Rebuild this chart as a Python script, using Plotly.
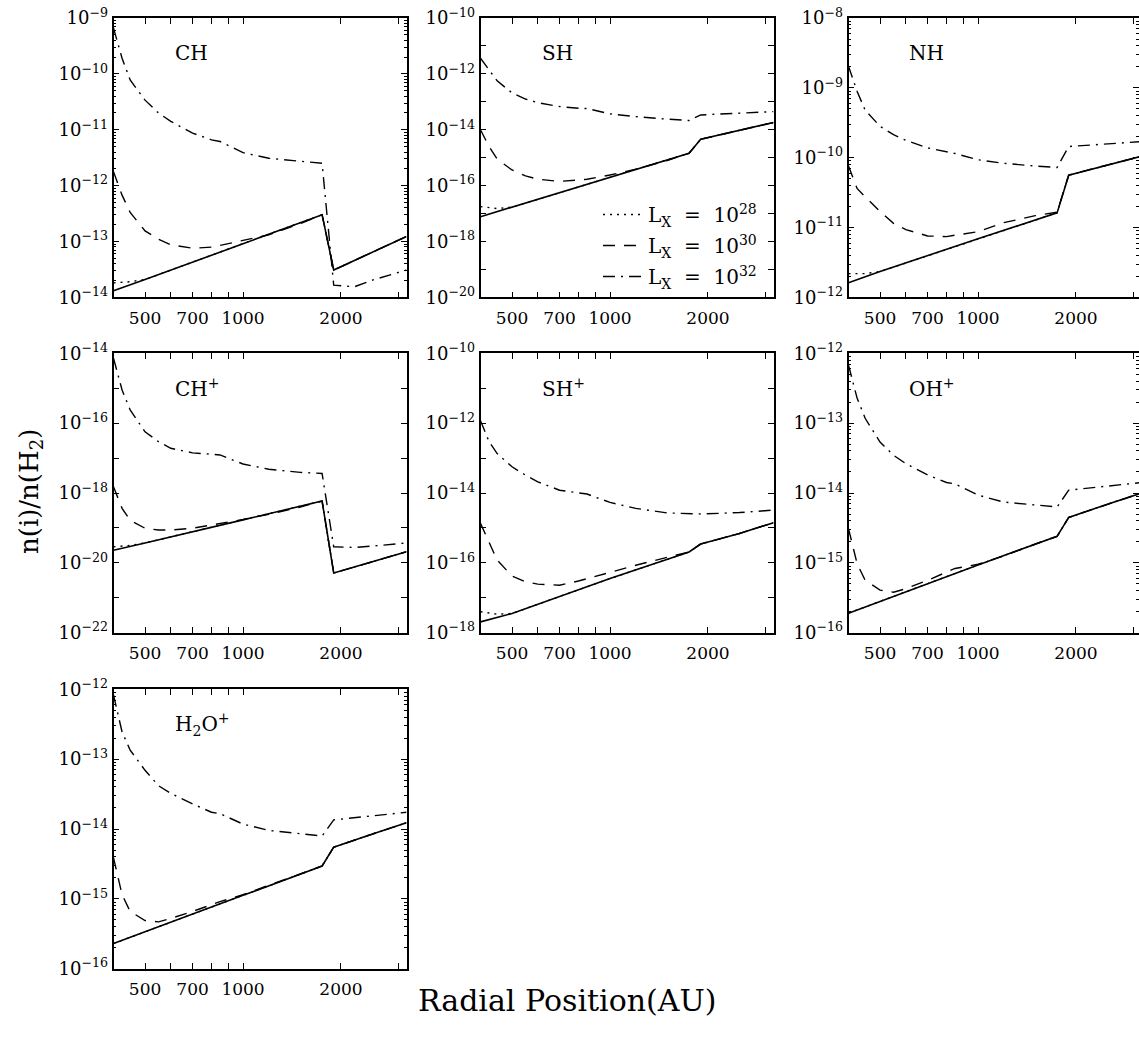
import math
import plotly.graph_objects as go

FONT = "DejaVu Serif"
W, H = 1139, 1039

# Radial position (AU) sampling points
X_CURVE = [400, 425, 450, 500, 550, 600, 700, 800, 850, 1000, 1200, 1500, 1750, 1900, 2200, 2500, 3180]
X_LINE = [400, 450, 500, 1000, 1750, 1900, 2500, 3180]

# log10 of n(i)/n(H2)
# --- CH ---
CH_LX32 = [-9.18, -9.72, -10.11, -10.47, -10.70, -10.85, -11.06, -11.18, -11.21, -11.41, -11.51, -11.57, -11.60, -13.78, -13.81, -13.69, -13.51]
CH_LX30 = [-11.75, -12.17, -12.48, -12.81, -12.96, -13.06, -13.12, -13.10, -13.07, -12.98, -12.88, -12.68, -12.52, -13.51, -13.34, -13.19, -12.91]
CH_LX28 = [-13.74, -13.72, -13.68, -13.04, -12.52, -13.51, -13.19, -12.91]
CH_BASE = [-13.88, -13.78, -13.68, -13.04, -12.52, -13.51, -13.19, -12.91]
# --- SH ---
SH_LX32 = [-11.44, -11.85, -12.25, -12.68, -12.90, -13.03, -13.17, -13.23, -13.24, -13.43, -13.53, -13.62, -13.67, -13.47, -13.44, -13.42, -13.35]
SH_LX30 = [-14.00, -14.60, -15.05, -15.44, -15.65, -15.77, -15.85, -15.79, -15.77, -15.62, -15.41, -15.10, -14.84, -14.34, -14.17, -14.02, -13.74]
SH_LX28 = [-16.75, -16.82, -16.77, -15.70, -14.84, -14.34, -14.02, -13.74]
SH_BASE = [-17.11, -16.93, -16.77, -15.70, -14.84, -14.34, -14.02, -13.74]
# --- NH ---
NH_LX32 = [-8.69, -9.05, -9.32, -9.55, -9.67, -9.75, -9.86, -9.91, -9.94, -10.03, -10.08, -10.12, -10.14, -9.84, -9.82, -9.80, -9.77]
NH_LX30 = [-10.12, -10.44, -10.56, -10.77, -10.94, -11.03, -11.12, -11.13, -11.11, -11.06, -10.93, -10.83, -10.78, -10.25, -10.17, -10.10, -9.98]
NH_LX28 = [-11.66, -11.66, -11.63, -11.16, -10.79, -10.25, -10.10, -9.98]
NH_BASE = [-11.79, -11.70, -11.63, -11.16, -10.79, -10.25, -10.10, -9.98]
# --- CH+ ---
CHP_LX32 = [-14.14, -15.05, -15.62, -16.25, -16.53, -16.72, -16.85, -16.89, -16.91, -17.17, -17.32, -17.41, -17.44, -19.54, -19.56, -19.52, -19.43]
CHP_LX30 = [-17.82, -18.44, -18.78, -19.01, -19.06, -19.06, -19.01, -18.92, -18.87, -18.76, -18.61, -18.40, -18.23, -20.29, -20.12, -19.97, -19.68]
CHP_LX28 = [-19.54, -19.50, -19.43, -18.77, -18.23, -20.29, -19.97, -19.68]
CHP_BASE = [-19.64, -19.52, -19.43, -18.77, -18.23, -20.29, -19.97, -19.68]
# --- SH+ ---
SHP_LX32 = [-11.93, -12.53, -12.87, -13.25, -13.49, -13.68, -13.92, -14.00, -14.03, -14.27, -14.44, -14.57, -14.60, -14.60, -14.58, -14.56, -14.49]
SHP_LX30 = [-14.87, -15.40, -15.92, -16.38, -16.54, -16.61, -16.64, -16.52, -16.45, -16.26, -16.07, -15.84, -15.69, -15.46, -15.29, -15.16, -14.85]
SHP_LX28 = [-17.40, -17.47, -17.45, -16.45, -15.69, -15.46, -15.16, -14.85]
SHP_BASE = [-17.69, -17.56, -17.45, -16.45, -15.69, -15.46, -15.16, -14.85]
# --- OH+ ---
OHP_LX32 = [-12.17, -12.64, -12.93, -13.27, -13.46, -13.58, -13.74, -13.85, -13.87, -14.03, -14.13, -14.17, -14.20, -13.96, -13.93, -13.91, -13.85]
OHP_LX30 = [-14.51, -15.01, -15.25, -15.39, -15.42, -15.37, -15.25, -15.13, -15.08, -15.02, -14.90, -14.73, -14.62, -14.35, -14.25, -14.16, -14.00]
OHP_LX28 = [-15.72, -15.63, -15.55, -15.03, -14.62, -14.35, -14.16, -14.00]
OHP_BASE = [-15.72, -15.63, -15.55, -15.03, -14.62, -14.35, -14.16, -14.00]
# --- H2O+ ---
H2OP_LX32 = [-12.08, -12.61, -12.87, -13.16, -13.38, -13.49, -13.64, -13.76, -13.78, -13.93, -14.02, -14.07, -14.10, -13.87, -13.84, -13.81, -13.76]
H2OP_LX30 = [-14.41, -14.94, -15.18, -15.31, -15.33, -15.28, -15.18, -15.08, -15.04, -14.94, -14.81, -14.64, -14.53, -14.26, -14.16, -14.07, -13.91]
H2OP_LX28 = [-15.64, -15.55, -15.47, -14.95, -14.53, -14.26, -14.07, -13.91]
H2OP_BASE = [-15.64, -15.55, -15.47, -14.95, -14.53, -14.26, -14.07, -13.91]

SPECIES = ["CH", "SH", "NH", "CH<sup>+</sup>", "SH<sup>+</sup>", "OH<sup>+</sup>", "H<sub>2</sub>O<sup>+</sup>"]
Y_RANGES = [(-14, -9), (-20, -10), (-12, -8), (-22, -14), (-18, -10), (-16, -12), (-16, -12)]
LABEL_STEP = [1, 2, 1, 2, 2, 1, 1]
DATA = [
    (CH_LX28, CH_LX30, CH_LX32, CH_BASE),
    (SH_LX28, SH_LX30, SH_LX32, SH_BASE),
    (NH_LX28, NH_LX30, NH_LX32, NH_BASE),
    (CHP_LX28, CHP_LX30, CHP_LX32, CHP_BASE),
    (SHP_LX28, SHP_LX30, SHP_LX32, SHP_BASE),
    (OHP_LX28, OHP_LX30, OHP_LX32, OHP_BASE),
    (H2OP_LX28, H2OP_LX30, H2OP_LX32, H2OP_BASE),
]
X_TICKS = [500, 700, 1000, 2000]
X_TICK_TEXT = ["500", "700", "1000", "2000"]
X_MINOR_TICKS = [600, 800, 900, 3000]
X_RANGE = (400, 3180)
LEGEND_NAMES = ["L<sub>X</sub>\u00a0\u00a0=\u00a0\u00a010<sup>28</sup>",
                "L<sub>X</sub>\u00a0\u00a0=\u00a0\u00a010<sup>30</sup>",
                "L<sub>X</sub>\u00a0\u00a0=\u00a0\u00a010<sup>32</sup>"]

# layout in pixels
COL_LEFT = [113.5, 480.5, 848.5]
ROW_TOP = [18.0, 353.3, 689.3]
PW, PH = 293.0, 279.4

STYLE_28 = dict(color="black", width=1.4, dash="2px,5px")
STYLE_30 = dict(color="black", width=1.4, dash="12px,9px")
STYLE_32 = dict(color="black", width=1.4, dash="12px,6px,2px,6px")
STYLE_BASE = dict(color="black", width=1.6)

Y_TICK_FONT = dict(family=FONT, size=18, color="black")
X_TICK_FONT = dict(family=FONT, size=17, color="black")


def pw(v):
    return [10 ** e for e in v]


def ylabel(k):
    return "10<sup>\u2212%d</sup>" % abs(k)


fig = go.Figure()
layout = {}
annotations = []

for i, (sp, yr, step, dat) in enumerate(zip(SPECIES, Y_RANGES, LABEL_STEP, DATA)):
    n = i + 1
    row, col = divmod(i, 3)
    suf = "" if n == 1 else str(n)
    x0 = COL_LEFT[col]
    x1 = min(x0 + PW, W)
    lx0, lx1 = math.log10(X_RANGE[0]), math.log10(X_RANGE[1])
    xhi = lx0 + (lx1 - lx0) * (x1 - x0) / PW
    y_top = ROW_TOP[row]
    y_bot = y_top + PH
    lx28, lx30, lx32, base = dat

    fig.add_trace(go.Scatter(x=X_LINE, y=pw(base), mode="lines", line=STYLE_BASE,
                             showlegend=False, xaxis="x" + suf, yaxis="y" + suf, hoverinfo="skip"))
    fig.add_trace(go.Scatter(x=X_LINE, y=pw(lx28), mode="lines", line=STYLE_28,
                             name=LEGEND_NAMES[0], legendgroup="a", showlegend=(n == 1),
                             xaxis="x" + suf, yaxis="y" + suf))
    fig.add_trace(go.Scatter(x=X_CURVE, y=pw(lx30), mode="lines", line=STYLE_30,
                             name=LEGEND_NAMES[1], legendgroup="b", showlegend=(n == 1),
                             xaxis="x" + suf, yaxis="y" + suf))
    fig.add_trace(go.Scatter(x=X_CURVE, y=pw(lx32), mode="lines", line=STYLE_32,
                             name=LEGEND_NAMES[2], legendgroup="c", showlegend=(n == 1),
                             xaxis="x" + suf, yaxis="y" + suf))

    lo, hi = yr
    if step == 1:
        yt = [10.0 ** k for k in range(lo, hi + 1)]
        ytt = [ylabel(k) for k in range(lo, hi + 1)]
        minor = dict(ticks="inside", ticklen=3, tickwidth=1, tickcolor="black", showgrid=False,
                     tickmode="array",
                     tickvals=[m * 10.0 ** k for k in range(lo, hi) for m in range(2, 10)])
    else:
        yt = [10.0 ** k for k in range(lo, hi + 1, step)]
        ytt = [ylabel(k) for k in range(lo, hi + 1, step)]
        minor = dict(ticks="inside", ticklen=6, tickwidth=1.2, tickcolor="black", showgrid=False,
                     tickmode="array",
                     tickvals=[10.0 ** k for k in range(lo + 1, hi, step)])

    layout["xaxis" + suf] = dict(
        type="log", range=[lx0, xhi], domain=[x0 / W, x1 / W], anchor="y" + suf,
        tickmode="array", tickvals=X_TICKS, ticktext=X_TICK_TEXT,
        ticks="inside", ticklen=6, tickwidth=1.2, tickcolor="black",
        minor=dict(ticks="inside", ticklen=6, tickwidth=1.2, tickcolor="black", showgrid=False,
                   tickmode="array", tickvals=X_MINOR_TICKS),
        showline=True, linecolor="black", linewidth=1.6, mirror="allticks",
        showgrid=False, zeroline=False, tickfont=X_TICK_FONT, automargin=False,
        ticklabelstandoff=4,
    )
    layout["yaxis" + suf] = dict(
        type="log", range=[lo, hi], domain=[1 - y_bot / H, 1 - y_top / H], anchor="x" + suf,
        tickmode="array", tickvals=yt, ticktext=ytt,
        ticks="inside", ticklen=6, tickwidth=1.2, tickcolor="black",
        showline=True, linecolor="black", linewidth=1.6, mirror="allticks",
        showgrid=False, zeroline=False, tickfont=Y_TICK_FONT, minor=minor, automargin=False,
    )
    annotations.append(dict(text=sp, xref="x%s domain" % suf, yref="y%s domain" % suf,
                            x=59 / PW, y=1 - 35 / PH, xanchor="left", yanchor="middle",
                            showarrow=False, font=dict(family=FONT, size=20, color="black")))

annotations.append(dict(text="n(i)/n(H<sub>2</sub>)", xref="paper", yref="paper",
                        x=30 / W, y=1 - 492 / H, textangle=-90, showarrow=False,
                        xanchor="center", yanchor="middle",
                        font=dict(family=FONT, size=26, color="black")))
annotations.append(dict(text="Radial Position(AU)", xref="paper", yref="paper",
                        x=567 / W, y=1 - 1000 / H, showarrow=False,
                        xanchor="center", yanchor="middle",
                        font=dict(family=FONT, size=30, color="black")))

fig.update_layout(
    width=W, height=H, margin=dict(l=0, r=0, t=0, b=0, autoexpand=False),
    paper_bgcolor="white", plot_bgcolor="white",
    showlegend=True,
    legend=dict(x=598 / W, y=1 - 195 / H, xanchor="left", yanchor="top",
                bgcolor="rgba(0,0,0,0)", borderwidth=0,
                font=dict(family=FONT, size=20, color="black"),
                itemwidth=40, tracegroupgap=2),
    annotations=annotations,
    **layout,
)

fig.write_html("out.html")
